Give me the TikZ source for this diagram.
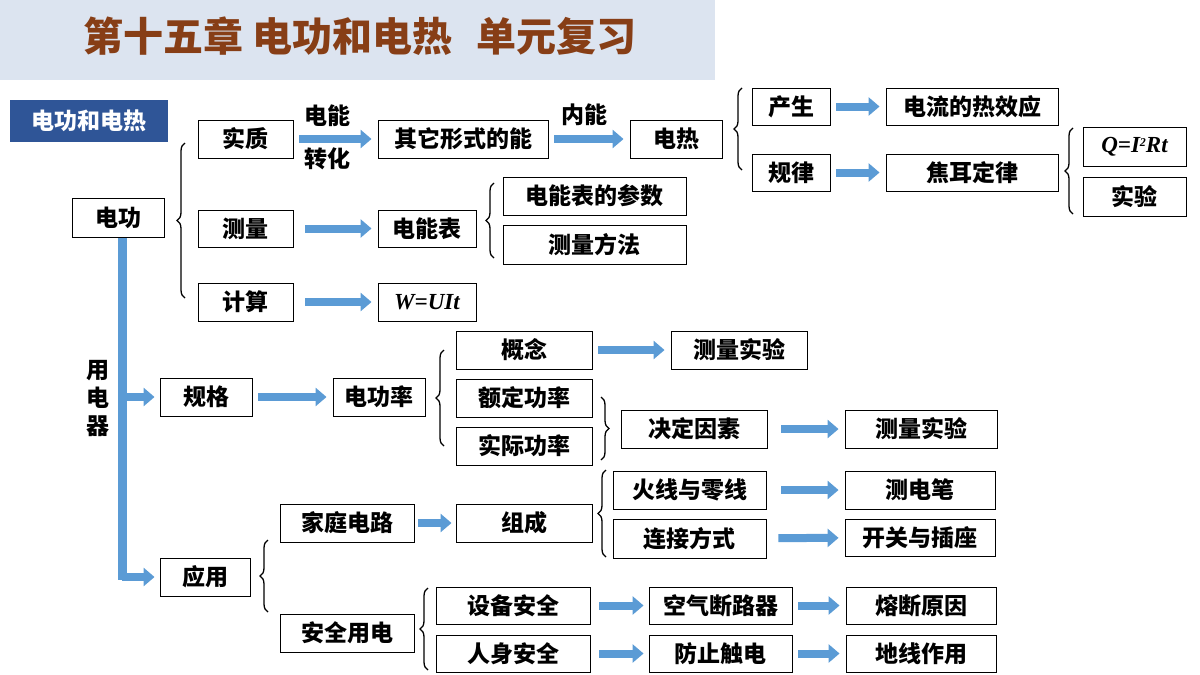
\documentclass[tikz,border=0pt]{standalone}
\usepackage{fontspec}
\setmainfont{Noto Sans CJK SC}
\newfontfamily\tms{Liberation Serif}
\usetikzlibrary{arrows.meta,decorations.pathreplacing}
\definecolor{ablue}{RGB}{91,155,213}
\definecolor{tbrown}{RGB}{135,62,22}
\definecolor{band}{RGB}{220,228,240}
\definecolor{dblue}{RGB}{47,85,151}
\newcommand{\bx}[6]{\node[box,minimum width={(#4-#2)*1pt},minimum height={(#5-#3)*1pt}] (#1) at ({(#2+#4)/2},{(#3+#5)/2}) {#6};}
\begin{document}
\begin{tikzpicture}[x=1pt,y=-1pt,
 box/.style={draw=black,line width=0.9pt,fill=white,inner sep=0pt,font=\fontsize{23}{25}\selectfont\bfseries},
 arr/.style={draw=ablue,line width=8pt,-{Triangle[length=11pt,width=18pt]},shorten <=6pt,shorten >=6pt},
 brl/.style={decorate,decoration={brace,amplitude=8pt},line width=1.3pt},
 lbl/.style={font=\fontsize{23}{25}\selectfont\bfseries,inner sep=0pt}]
\useasboundingbox (0,0) rectangle (1200,675);
\fill[band] (0,0) rectangle (715,80);
\node[font=\fontsize{40}{42}\selectfont\bfseries,text=tbrown] (title) at (360,36) {第十五章 电功和电热\hspace{0.6em}单元复习};
\node[fill=dblue,text=white,minimum width=158pt,minimum height=42pt,inner sep=0pt,font=\fontsize{23}{25}\selectfont\bfseries] (top) at (89,121) {电功和电热};
\bx{sz}{198}{120}{293}{158}{实质}
\bx{qt}{378}{120}{548}{158}{其它形式的能}
\bx{dr}{630}{120}{722}{158}{电热}
\node[lbl] (l1) at (327,116) {电能};
\node[lbl] (l2) at (327,159) {转化};
\node[lbl] (l3) at (584,115) {内能};
\draw[arr] (sz) -- (qt);
\draw[arr] (qt) -- (dr);
\draw[brl] (742,170) -- (742,88);
\bx{cs}{752}{88}{830}{125}{产生}
\bx{rx}{886}{88}{1058}{125}{电流的热效应}
\bx{gl}{752}{154}{830}{191}{规律}
\bx{jr}{886}{154}{1058}{191}{焦耳定律}
\draw[arr] (cs) -- (rx);
\draw[arr] (gl) -- (jr);
\draw[brl] (1073,214) -- (1073,128);
\bx{qf}{1083}{127}{1186}{166}{\tms\bfseries\itshape Q=I\raisebox{0.5ex}{\fontsize{12}{12}\selectfont 2}Rt}
\bx{sy}{1083}{177}{1186}{216}{实验}
\bx{dg}{72}{198}{164}{237}{电功}
\draw[brl] (185,298) -- (185,143);
\bx{cl}{198}{210}{293}{247}{测量}
\bx{db}{378}{210}{476}{247}{电能表}
\draw[arr,shorten <=12pt] (cl) -- (db);
\draw[brl] (494,258) -- (494,183);
\bx{cs2}{503}{177}{686}{215}{电能表的参数}
\bx{ff}{503}{225}{686}{264}{测量方法}
\bx{js}{198}{283}{293}{321}{计算}
\bx{wu}{378}{283}{476}{321}{\tms\bfseries\itshape W=UIt}
\draw[arr,shorten <=12pt] (js) -- (wu);
\fill[ablue] (118,238) rectangle (127,580);
\node[lbl,align=center,font=\fontsize{23}{28}\selectfont\bfseries] (yd) at (98,399) {用\\电\\器};
\bx{gg}{160}{378}{252}{416}{规格}
\bx{yy}{160}{558}{250}{596}{应用}
\coordinate (b1) at (122,397);
\coordinate (b2) at (122,577);
\draw[arr,shorten <=0pt,shorten >=5pt] (b1) -- (gg);
\draw[arr,shorten <=0pt,shorten >=5pt] (b2) -- (yy);
\bx{gl2}{333}{378}{425}{416}{电功率}
\draw[arr] (gg) -- (gl2);
\draw[brl] (444,446) -- (444,350);
\bx{gn}{456}{331}{592}{369}{概念}
\bx{sy1}{671}{331}{807}{369}{测量实验}
\draw[arr] (gn) -- (sy1);
\bx{ed}{456}{379}{592}{417}{额定功率}
\bx{sj}{456}{427}{592}{465}{实际功率}
\draw[brl] (601,397) -- (601,460);
\bx{jd}{621}{410}{767}{448}{决定因素}
\bx{sy2}{845}{410}{997}{448}{测量实验}
\draw[arr,shorten <=14pt] (jd) -- (sy2);
\bx{jt}{280}{504}{414}{542}{家庭电路}
\bx{zc}{456}{504}{592}{542}{组成}
\draw[arr,shorten <=4pt,shorten >=4pt] (jt) -- (zc);
\draw[brl] (606,557) -- (606,470);
\bx{hx}{613}{471}{766}{509}{火线与零线}
\bx{cd}{845}{471}{995}{509}{测电笔}
\draw[arr,shorten <=15pt] (hx) -- (cd);
\bx{lj}{613}{519}{766}{558}{连接方式}
\bx{kg}{845}{519}{995}{556}{开关与插座}
\draw[arr,shorten <=12pt] (lj) -- (kg);
\draw[brl] (268,612) -- (268,540);
\bx{aq}{280}{614}{414}{652}{安全用电}
\draw[brl] (428,670) -- (428,588);
\bx{sb}{436}{587}{590}{624}{设备安全}
\bx{kq}{649}{587}{792}{624}{空气断路器}
\bx{rd}{846}{587}{996}{624}{熔断原因}
\bx{rs}{436}{635}{590}{672}{人身安全}
\bx{fz}{649}{635}{792}{672}{防止触电}
\bx{dx}{846}{635}{996}{672}{地线作用}
\draw[arr,shorten <=9pt,shorten >=5pt] (sb) -- (kq);
\draw[arr] (kq) -- (rd);
\draw[arr,shorten <=9pt,shorten >=5pt] (rs) -- (fz);
\draw[arr] (fz) -- (dx);
\end{tikzpicture}
\end{document}
